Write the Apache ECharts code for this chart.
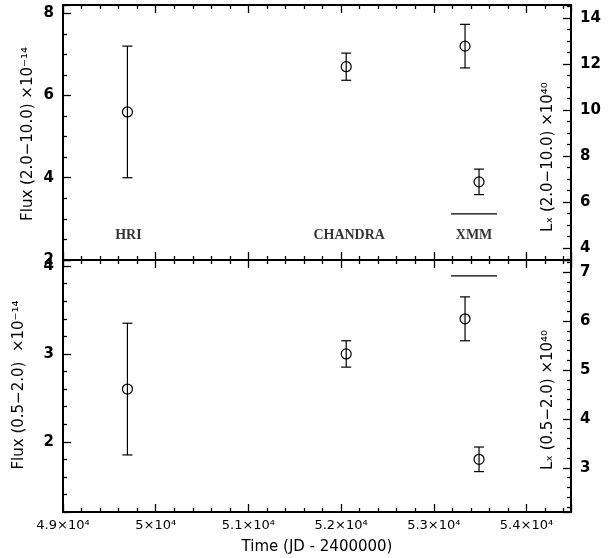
<!DOCTYPE html>
<html>
<head>
<meta charset="utf-8">
<script src="https://cdn.jsdelivr.net/npm/echarts@6/dist/echarts.min.js"></script>
<style>html,body{margin:0;padding:0;background:#fff}#c{width:613px;height:558px}</style>
</head>
<body>
<div id="c"></div>
<script>
// ---- data ----
const instruments = ['HRI', 'CHANDRA', 'XMM', 'XMM'];
const times = [49695, 52055, 53337, 53488];            // JD - 2400000
const fluxHard = [5.6, 6.7, 7.2, 3.9];                 // 2.0-10.0 keV, 1e-14
const fluxHardErr = [1.6, 0.33, 0.53, 0.31];
const fluxSoft = [2.6, 3.0, 3.4, 1.8];                 // 0.5-2.0 keV, 1e-14
const fluxSoftErr = [0.75, 0.15, 0.25, 0.14];
const labelNames = ['HRI', 'CHANDRA', 'XMM'];
const labelTimes = [49706, 52087, 53434];
const labelLevel = 2.6;
const xmmBarTimes = [53186, 53682];
const xmmBarHard = 3.12;
const xmmBarSoft = 3.89;

const SANS = 'DejaVu Sans';
const tickTxt = {color: '#000', fontFamily: SANS, fontSize: 15, fontWeight: 'bold'};
const titleFont = '15px "DejaVu Sans"';

function xAxis(grid, pos, labels) {
  return {
    type: 'value', gridIndex: grid, position: pos, min: 49000, max: 54480, interval: 1000,
    axisLine: {show: true, onZero: false, lineStyle: {color: '#000', width: 2}},
    axisTick: {show: true, inside: true, length: 8, lineStyle: {color: '#000', width: 1.3}},
    minorTick: {show: true, splitNumber: 5, length: 4, lineStyle: {color: '#000', width: 1.3}},
    splitLine: {show: false},
    axisLabel: labels ? {
      show: true, margin: 7, color: '#000', fontFamily: SANS, fontSize: 13,
      formatter: v => (v / 1e4) + '×10⁴'
    } : {show: false},
    name: labels ? 'Time (JD - 2400000)' : '', nameLocation: 'middle', nameGap: 28,
    nameTextStyle: {color: '#000', fontFamily: SANS, fontSize: 15}
  };
}
function yAxis(grid, pos, min, max, split, minorSplit, showMin) {
  return {
    type: 'value', gridIndex: grid, position: pos, min: min, max: max, splitNumber: split,
    axisLine: {show: true, onZero: false, lineStyle: {color: '#000', width: 2}},
    axisTick: {show: true, inside: true, length: 8, lineStyle: {color: '#000', width: 1.3}},
    minorTick: {show: true, splitNumber: minorSplit, length: 4, lineStyle: {color: '#000', width: 1.3}},
    splitLine: {show: false},
    axisLabel: {show: true, margin: 9, ...tickTxt, showMinLabel: !!showMin, showMaxLabel: false,
      formatter: v => String(v)}
  };
}

function errSeries(xi, yi, vals, errs) {
  return {
    type: 'custom', xAxisIndex: xi, yAxisIndex: yi,
    data: times.map((t, i) => [t, vals[i], errs[i]]),
    renderItem: (params, api) => {
      const x = api.value(0), y = api.value(1), e = api.value(2);
      const p = api.coord([x, y]);
      const t = api.coord([x, y + e]);
      const b = api.coord([x, y - e]);
      const st = {stroke: '#000', lineWidth: 1.2, fill: null};
      const cw = 5;
      return {type: 'group', children: [
        {type: 'line', shape: {x1: p[0], y1: t[1], x2: p[0], y2: b[1]}, style: st},
        {type: 'line', shape: {x1: p[0] - cw, y1: t[1], x2: p[0] + cw, y2: t[1]}, style: st},
        {type: 'line', shape: {x1: p[0] - cw, y1: b[1], x2: p[0] + cw, y2: b[1]}, style: st},
        {type: 'circle', shape: {cx: p[0], cy: p[1], r: 5}, style: {stroke: '#000', lineWidth: 1.2, fill: 'rgba(0,0,0,0)'}}
      ]};
    },
    z: 5
  };
}

const option = {
  animation: false,
  backgroundColor: '#fff',
  grid: [
    {left: 63, right: 42, top: 5, height: 255},
    {left: 63, right: 42, top: 260, height: 252}
  ],
  xAxis: [xAxis(0, 'bottom', false), xAxis(0, 'top', false), xAxis(1, 'bottom', true), xAxis(1, 'top', false)],
  yAxis: [
    yAxis(0, 'left', 2, 8.2, 3, 4, true),
    yAxis(0, 'right', 3.48, 14.57, 5, 4),
    yAxis(1, 'left', 1.2, 4.07, 3, 5),
    yAxis(1, 'right', 2.1, 7.245, 5, 5)
  ],
  graphic: [
    {type: 'text', x: 28, y: 134, rotation: Math.PI / 2,
      style: {text: 'Flux (2.0−10.0) ×10⁻¹⁴', align: 'center', verticalAlign: 'middle', fill: '#000', font: titleFont}},
    {type: 'text', x: 19, y: 385, rotation: Math.PI / 2,
      style: {text: 'Flux (0.5−2.0)  ×10⁻¹⁴', align: 'center', verticalAlign: 'middle', fill: '#000', font: titleFont}},
    {type: 'text', x: 548, y: 157, rotation: Math.PI / 2,
      style: {text: 'Lₓ (2.0−10.0) ×10⁴⁰', align: 'center', verticalAlign: 'middle', fill: '#000', font: titleFont}},
    {type: 'text', x: 548, y: 400, rotation: Math.PI / 2,
      style: {text: 'Lₓ (0.5−2.0) ×10⁴⁰', align: 'center', verticalAlign: 'middle', fill: '#000', font: titleFont}}
  ],
  series: [
    errSeries(0, 0, fluxHard, fluxHardErr),
    errSeries(2, 2, fluxSoft, fluxSoftErr),
    {type: 'line', xAxisIndex: 0, yAxisIndex: 0, symbol: 'none', silent: true,
      data: xmmBarTimes.map(t => [t, xmmBarHard]), lineStyle: {color: '#000', width: 1.3}},
    {type: 'line', xAxisIndex: 2, yAxisIndex: 2, symbol: 'none', silent: true,
      data: xmmBarTimes.map(t => [t, xmmBarSoft]), lineStyle: {color: '#000', width: 1.3}},
    {type: 'scatter', xAxisIndex: 0, yAxisIndex: 0, symbolSize: 0, silent: true,
      data: labelNames.map((n, i) => ({name: n, value: [labelTimes[i], labelLevel]})),
      label: {show: true, position: 'inside', formatter: p => p.name,
        color: '#000', fontFamily: 'Liberation Serif', fontSize: 14, fontWeight: 'bold'}}
  ]
};
echarts.init(document.getElementById('c'), null, {renderer: 'canvas'}).setOption(option);
</script>
</body>
</html>
